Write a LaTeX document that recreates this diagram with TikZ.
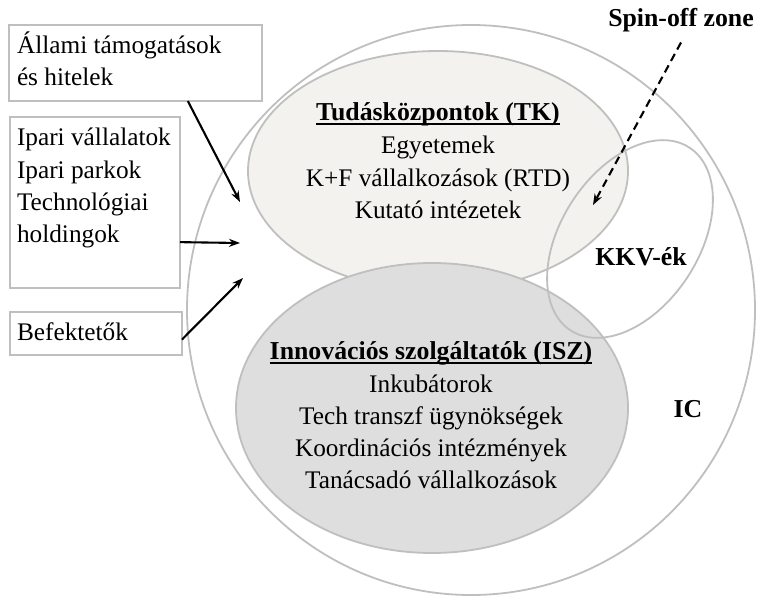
\documentclass[tikz,border=0pt]{standalone}
\usepackage{fontspec}
\setmainfont{Liberation Serif}
\usetikzlibrary{shapes.geometric,arrows.meta}
\definecolor{bordergray}{HTML}{BFBFBF}
\definecolor{tkfill}{HTML}{F3F2EE}
\definecolor{iszfill}{HTML}{DEDEDE}
\newcommand\myul[1]{\setbox0\hbox{#1}\rlap{\rule[-4.5pt]{\wd0}{1.7pt}}\box0}
\begin{document}
\begin{tikzpicture}[x=1pt,y=-1pt,
  txt/.style={inner sep=0pt, outer sep=0pt, font=\fontsize{25.3}{30}\selectfont, anchor=base},
  btxt/.style={inner sep=0pt, outer sep=0pt, font=\fontsize{25.8}{30}\selectfont\bfseries, anchor=base},
  ltxt/.style={txt, anchor=base west},
  region/.style={ellipse, draw=bordergray, line width=1.8pt, inner sep=0pt, outer sep=0pt},
  srcbox/.style={rectangle, draw=bordergray, line width=1.8pt, inner sep=0pt, outer sep=0pt},
  arr/.style={-{Stealth[length=11pt,width=8pt]}, line width=2.1pt, black},
]
\useasboundingbox (0,0) rectangle (757,597);
% regions
\node[region, fill=white, minimum width=568pt, minimum height=570pt] (ic) at (471,310) {};
\node[region, fill=tkfill, minimum width=380pt, minimum height=240pt] (tk) at (438,171) {};
\node[region, fill=iszfill, minimum width=392pt, minimum height=290pt] (isz) at (432,408) {};
\node[region, rotate=-33, minimum width=138pt, minimum height=218pt] (kkv) at (630,239) {};
% source boxes
\node[srcbox, minimum width=253pt, minimum height=76pt] (b1) at (135.5,63) {};
\node[srcbox, minimum width=170pt, minimum height=171pt] (b2) at (95,202.5) {};
\node[srcbox, minimum width=172pt, minimum height=43pt] (b3) at (96,333.5) {};
% box texts
\node[ltxt] (t1a) at (17,53) {Állami támogatások};
\node[ltxt] (t1b) at (17,85) {és hitelek};
\node[ltxt] (t2a) at (17,145) {Ipari vállalatok};
\node[ltxt] (t2b) at (17,178) {Ipari parkok};
\node[ltxt] (t2c) at (17,210) {Technológiai};
\node[ltxt] (t2d) at (17,242) {holdingok};
\node[ltxt] (t3) at (17,340) {Befektetők};
% TK texts
\node[btxt] (tkt) at (438,120) {\myul{Tudásközpontok (TK)}};
\node[txt] (tk1) at (438,153) {Egyetemek};
\node[txt] (tk2) at (438,186) {K+F vállalkozások (RTD)};
\node[txt] (tk3) at (438,218) {Kutató intézetek};
% ISZ texts
\node[btxt] (iszt) at (431,359) {\myul{Innovációs szolgáltatók (ISZ)}};
\node[txt] (isz1) at (431,392) {Inkubátorok};
\node[txt] (isz2) at (431,424) {Tech transzf ügynökségek};
\node[txt] (isz3) at (431,456) {Koordinációs intézmények};
\node[txt] (isz4) at (431,488) {Tanácsadó vállalkozások};
% other labels
\node[btxt] (kkvt) at (641,265) {KKV-ék};
\node[btxt] (ict) at (688,417) {IC};
\node[btxt, inner sep=10pt] (spin) at (681,27) {Spin-off zone};
% arrows
\coordinate (e1) at (240,202);
\coordinate (e2) at (240,243);
\coordinate (e3) at (243,278);
\coordinate (e4) at (593,205);
\draw[arr] (b1.-36.4) -- (e1);
\draw[arr] (b2.-25.5) -- (e2);
\draw[arr] (b3.-4.3) -- (e3);
\draw[arr, dash pattern=on 8pt off 5pt] (spin.south) -- (e4);
\end{tikzpicture}
\end{document}
